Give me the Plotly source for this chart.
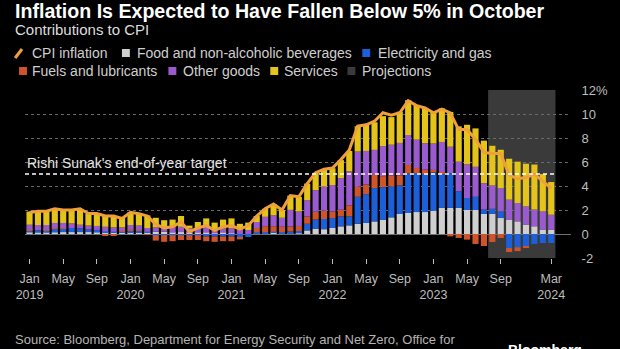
import plotly.graph_objects as go
import pandas as pd

# ---------------- data ----------------
MONTHS = [d.strftime("%b %Y") for d in pd.date_range("2019-01-01", "2024-03-01", freq="MS")]

FOOD = [0.12, 0.10, 0.10, 0.12, 0.15, 0.15, 0.15, 0.15, 0.12, 0.12, 0.10, 0.12,
        0.15, 0.15, 0.10, 0.20, 0.20, 0.10, 0.15, 0.10, 0.10, 0.10, 0.05, 0.10,
        0.05, 0.00, 0.00, 0.05, 0.05, 0.10, 0.05, 0.05, 0.05, 0.30, 0.45, 0.40,
        0.50, 0.64, 0.72, 0.85, 0.92, 1.05, 1.20, 1.39, 1.67, 1.75, 1.83, 1.83,
        1.94, 2.17, 2.17, 2.17, 2.00, 2.00, 1.67, 1.67, 1.33, 1.20, 1.05, 0.78,
        0.64, 0.36, 0.36]
ELEC = [0.20, 0.20, 0.20, 0.32, 0.32, 0.35, 0.32, 0.22, 0.22, 0.10, 0.10, 0.10,
        0.15, 0.15, 0.10, -0.10, -0.10, -0.10, -0.10, -0.10, -0.10, -0.20, -0.20, -0.20,
        -0.20, -0.25, -0.25, 0.10, 0.10, 0.10, 0.10, 0.15, 0.20, 0.55, 0.75, 0.85,
        0.83, 0.83, 0.75, 2.25, 2.40, 2.78, 2.70, 2.58, 2.39, 3.30, 3.25, 3.17,
        3.20, 2.90, 2.90, 1.40, 1.00, 1.10, 0.36, 0.44, 0.55, -1.17, -1.10, -1.03,
        -0.83, -0.75, -0.75]
FUELS = [0.05, 0.00, 0.05, 0.10, 0.05, 0.00, 0.00, 0.00, 0.00, -0.15, -0.15, 0.05,
         0.10, 0.05, -0.05, -0.45, -0.55, -0.50, -0.40, -0.40, -0.40, -0.40, -0.45, -0.40,
         -0.40, -0.20, 0.00, 0.35, 0.50, 0.45, 0.45, 0.42, 0.42, 0.60, 0.65, 0.70,
         0.55, 0.55, 0.92, 0.85, 0.80, 1.10, 0.92, 0.92, 0.83, 0.70, 0.42, 0.36,
         0.20, 0.10, -0.20, -0.33, -0.47, -0.83, -1.00, -0.67, -0.33, -0.33, -0.33, -0.14,
         0.00, 0.00, 0.00]
OTHER = [0.40, 0.45, 0.40, 0.38, 0.40, 0.38, 0.30, 0.33, 0.33, 0.38, 0.35, 0.28,
         0.35, 0.35, 0.30, 0.35, 0.35, 0.45, 0.45, 0.40, 0.40, 0.50, 0.30, 0.35,
         0.42, 0.40, 0.33, 0.50, 0.78, 0.90, 0.75, 1.39, 1.20, 1.35, 1.80, 2.00,
         2.20, 2.64, 2.83, 2.92, 2.80, 2.08, 2.50, 2.55, 2.70, 2.50, 2.36, 2.20,
         2.20, 2.50, 2.20, 2.45, 2.80, 2.50, 2.20, 1.94, 1.94, 1.67, 1.53, 1.53,
         1.40, 1.53, 1.25]
SERVICES = [1.10, 1.15, 1.15, 1.15, 1.10, 1.12, 1.30, 1.00, 0.98, 0.95, 0.95, 0.80,
            1.05, 1.00, 1.05, 0.80, 0.60, 0.65, 0.90, 0.20, 0.50, 0.70, 0.60, 0.75,
            0.83, 0.45, 0.62, 0.50, 0.67, 0.95, 0.65, 1.19, 1.23, 1.40, 1.45, 1.45,
            1.40, 1.50, 1.70, 2.10, 2.20, 2.30, 2.50, 2.30, 2.60, 2.90, 2.90, 2.90,
            2.60, 2.80, 2.90, 2.95, 3.30, 3.20, 3.55, 3.30, 3.20, 3.40, 3.45, 3.55,
            3.75, 3.10, 2.72]
CPI = [1.8, 1.9, 1.9, 2.1, 2.0, 2.0, 2.1, 1.7, 1.7, 1.5, 1.5, 1.3,
       1.8, 1.7, 1.5, 0.8, 0.5, 0.6, 1.0, 0.2, 0.5, 0.7, 0.3, 0.6,
       0.7, 0.4, 0.7, 1.5, 2.1, 2.5, 2.0, 3.2, 3.1, 4.2, 5.1, 5.4,
       5.5, 6.2, 7.0, 9.0, 9.1, 9.4, 10.1, 9.9, 10.1, 11.1, 10.7, 10.5,
       10.1, 10.4, 10.1, 8.7, 8.7, 7.9, 6.8, 6.7, 6.7, 4.9, 4.6, 4.7,
       5.0, 4.4, 3.8]

TICK_MONTHS = ["Jan 2019", "May 2019", "Sep 2019", "Jan 2020", "May 2020", "Sep 2020",
               "Jan 2021", "May 2021", "Sep 2021", "Jan 2022", "May 2022", "Sep 2022",
               "Jan 2023", "May 2023", "Sep 2023", "Mar 2024"]
TICK_TEXT = ["Jan<br>2019", "May", "Sep", "Jan<br>2020", "May", "Sep",
             "Jan<br>2021", "May", "Sep", "Jan<br>2022", "May", "Sep",
             "Jan<br>2023", "May", "Sep", "Mar<br>2024"]
Y_TICKS = [-2, 0, 2, 4, 6, 8, 10, 12]
Y_TICK_TEXT = ["-2", "0", "2", "4", "6", "8", "10", "12%"]

PROJ_START, PROJ_END = "Aug 2023", "Mar 2024"
TARGET = 5

SERIES = [("Food and non-alcoholic beverages", FOOD, "#cfcfcf"),
          ("Electricity and gas", ELEC, "#1c5fd8"),
          ("Fuels and lubricants", FUELS, "#cf5429"),
          ("Other goods", OTHER, "#9a5bcf"),
          ("Services", SERVICES, "#e4c41a")]
CPI_COLOR = "#f0a03a"
PROJ_COLOR = "#3a3a3a"

# ---------------- layout geometry ----------------
W, H = 620, 349
PL, PR, PT, PB = 25, 577, 90, 258   # plot area in pixels
FONT = "Liberation Sans, Arial, sans-serif"

def fx(px):
    return (px - PL) / (PR - PL)

def fy(py):
    return (PB - py) / (PB - PT)

x = list(range(len(MONTHS)))
fig = go.Figure()
for name, vals, col in SERIES:
    fig.add_trace(go.Bar(x=x, y=vals, name=name, marker=dict(color=col, line=dict(width=0)),
                         showlegend=False))
fig.add_trace(go.Scatter(x=x, y=CPI, mode="lines", name="CPI inflation",
                         line=dict(color=CPI_COLOR, width=3), showlegend=False))

i0, i1 = MONTHS.index(PROJ_START), MONTHS.index(PROJ_END)
x_lo, x_hi = -0.54, 64.35
fig.add_shape(type="rect", xref="x", yref="y", x0=i0 - 0.5, x1=i1 + 0.5, y0=-2, y1=12,
              fillcolor=PROJ_COLOR, line=dict(width=0), layer="below")
fig.add_shape(type="line", xref="x", yref="y", x0=x_lo, x1=len(MONTHS) - 0.5, y0=TARGET, y1=TARGET,
              line=dict(color="white", width=1.5, dash="4px,3px"))
fig.add_annotation(xref="paper", yref="y", x=0, y=TARGET, xanchor="left", yanchor="bottom",
                   yshift=1, showarrow=False, text="Rishi Sunak's end-of-year target",
                   font=dict(family=FONT, size=14, color="#e6e6e6"))

# title + subtitle (one text block)
fig.add_annotation(xref="paper", yref="paper", x=fx(13), y=fy(19.5), xanchor="left", yanchor="middle",
                   showarrow=False, align="left",
                   text="<b><span style='font-size:19.6px;color:white'>Inflation Is Expected to Have Fallen Below 5% in October</span></b>"
                        "<br><span style='font-size:15px'>Contributions to CPI</span>",
                   font=dict(family=FONT, size=13, color="#dddddd"))

# legend (manual, two rows)
LEG_FONT = dict(family=FONT, size=14, color="#cfcfcf")
fig.add_shape(type="line", xref="paper", yref="paper", x0=fx(15), y0=fy(58), x1=fx(22), y1=fy(49),
              line=dict(color=CPI_COLOR, width=3))
fig.add_annotation(xref="paper", yref="paper", x=fx(30), y=fy(53), xanchor="left", yanchor="middle",
                   showarrow=False, text="CPI inflation", font=LEG_FONT)
legend_items = [(SERIES[0][0], SERIES[0][2], 123, 136, 53),
                (SERIES[1][0], SERIES[1][2], 366, 380, 53),
                (SERIES[2][0], SERIES[2][2], 19, 30, 71),
                (SERIES[3][0], SERIES[3][2], 170, 183, 71),
                (SERIES[4][0], SERIES[4][2], 273, 285, 71),
                ("Projections", PROJ_COLOR, 351, 364, 71)]
for name, col, sx, tx, cy in legend_items:
    fig.add_shape(type="rect", xref="paper", yref="paper", x0=fx(sx), x1=fx(sx + 8),
                  y0=fy(cy + 4), y1=fy(cy - 4), fillcolor=col, line=dict(width=0))
    fig.add_annotation(xref="paper", yref="paper", x=fx(tx), y=fy(cy), xanchor="left",
                       yanchor="middle", showarrow=False, text=name, font=LEG_FONT)

# source / logo
fig.add_annotation(xref="paper", yref="paper", x=fx(13), y=fy(330), xanchor="left", yanchor="top",
                   showarrow=False, align="left",
                   text="Source: Bloomberg, Department for Energy Security and Net Zero, Office for<br>National Statistics, Bank of England",
                   font=dict(family=FONT, size=13, color="#b4b4b4"))
fig.add_annotation(xref="paper", yref="paper", x=fx(590), y=fy(340), xanchor="right", yanchor="top",
                   showarrow=False, text="<b>Bloomberg</b>",
                   font=dict(family=FONT, size=14, color="white"))

fig.update_layout(
    width=W, height=H, barmode="relative", bargap=0.27,
    paper_bgcolor="black", plot_bgcolor="black",
    margin=dict(l=PL, r=W - PR, t=PT, b=H - PB),
    showlegend=False,
    xaxis=dict(range=[x_lo, x_hi], tickvals=[MONTHS.index(m) for m in TICK_MONTHS],
               ticktext=TICK_TEXT, showgrid=False, zeroline=False, showline=False,
               ticks="outside", ticklen=5, tickcolor="#bbbbbb", tickwidth=1,
               ticklabelstandoff=4,
               tickfont=dict(family=FONT, size=12.5, color="#bdbdbd")),
    yaxis=dict(range=[-2, 12], side="right", tickvals=Y_TICKS, ticktext=Y_TICK_TEXT,
               showgrid=True, gridcolor="#6a6a6a", griddash="dot", gridwidth=1,
               zeroline=True, zerolinecolor="#707070", zerolinewidth=1, showline=False,
               ticks="outside", ticklen=7, tickcolor="rgba(0,0,0,0)",
               tickfont=dict(family=FONT, size=13, color="#bdbdbd")),
)

fig.write_html("out.html")
